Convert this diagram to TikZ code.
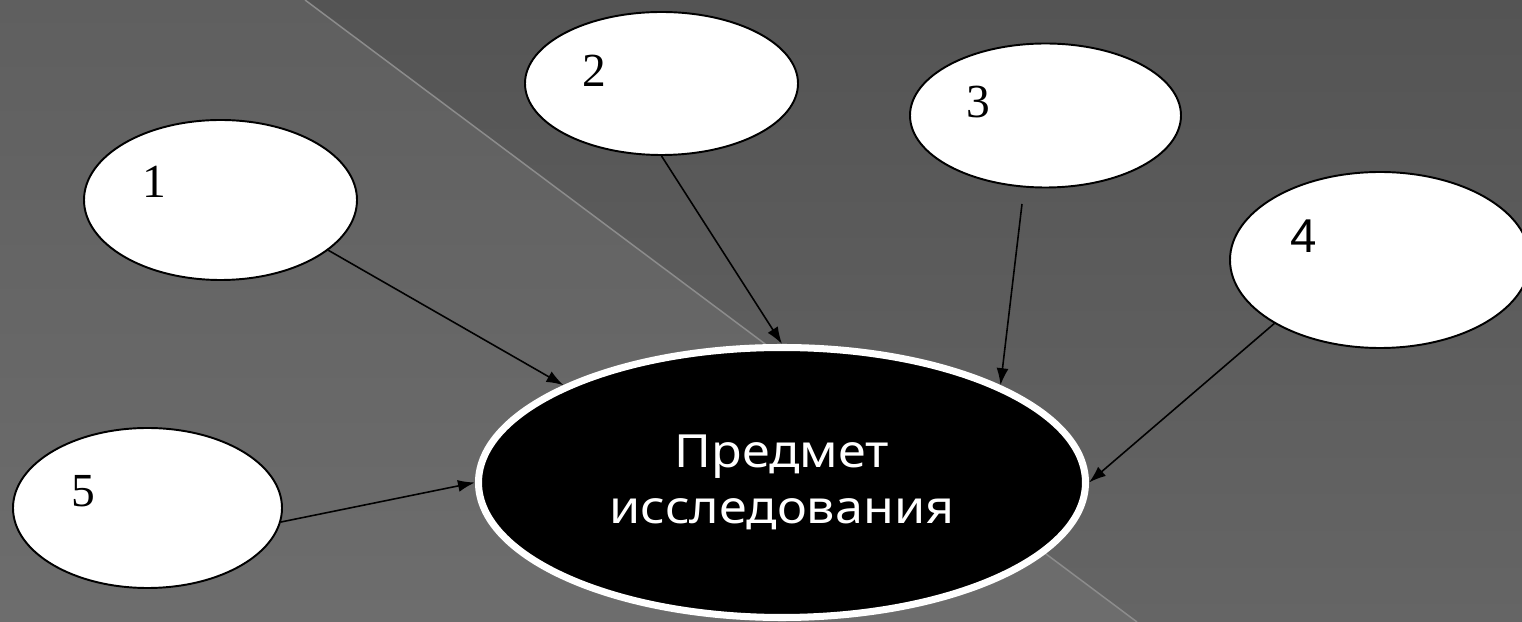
\documentclass[tikz,border=0pt]{standalone}
\usepackage{fontspec}
\setmainfont{Liberation Serif}
\newfontfamily\gothicfont{Noto Sans}[FakeStretch=1.1]
\newfontfamily\plainsans{Liberation Sans}
\usetikzlibrary{arrows.meta,shapes.geometric}

\definecolor{darktop}{HTML}{545454}
\definecolor{darkbot}{HTML}{656565}
\definecolor{lighttop}{HTML}{5F5F5F}
\definecolor{lightbot}{HTML}{6D6D6D}
\definecolor{rule}{HTML}{8C8C8C}

\begin{document}
\begin{tikzpicture}[>={Latex[length=0.34cm,width=0.24cm]},
    oval/.style={ellipse, draw=black, fill=white, line width=1.1pt, inner sep=0pt},
    numtext/.style={inner sep=0pt, font=\fontsize{27}{32}\selectfont},
    subject/.style={ellipse, draw=white, fill=black, line width=4pt, text=white,
        align=center, inner sep=0pt, font=\gothicfont\fontsize{26}{32}\selectfont},
    link/.style={->, line width=0.9pt}]

    %% Background
    \useasboundingbox (0,0) rectangle (30.44,12.44);
    \fill[top color=lighttop, bottom color=lightbot]
    (0,0) -- (0,12.44) -- (6.10,12.44) -- (22.74,0) -- cycle;
    \fill[top color=darktop, bottom color=darkbot]
    (6.10,12.44) -- (30.44,12.44) -- (30.44,0) -- (22.74,0) -- cycle;
    \draw[rule, line width=0.85pt] (6.10,12.44) -- (22.74,0);

    % Ovals
    \node[oval, minimum width=5.46cm, minimum height=3.20cm] (e1) at (4.41,8.44) {};
    \node[oval, minimum width=5.46cm, minimum height=2.86cm] (e2) at (13.23,10.77) {};
    \node[oval, minimum width=5.42cm, minimum height=2.88cm] (e3) at (20.91,10.13) {};
    \node[oval, minimum width=6.00cm, minimum height=3.52cm] (e4) at (27.60,7.24) {};
    \node[oval, minimum width=5.38cm, minimum height=3.20cm] (e5) at (2.95,2.28) {};

    \node[numtext] (n1) at (3.08,8.80) {1};
    \node[numtext] (n2) at (11.88,11.02) {2};
    \node[numtext] (n3) at (19.56,10.39) {3};
    \node[numtext, font=\plainsans\fontsize{27}{32}\selectfont] (n4) at (26.08,7.72) {4};
    \node[numtext] (n5) at (1.66,2.62) {5};

    % Subject
    \node[subject, minimum width=12.14cm, minimum height=5.40cm] (big) at (15.64,2.79)
    {Предмет\\исследования};

    % Arrows
    \coordinate (a3) at (20.44,8.36);
    \draw[link] (e1.-25) -- (big.156);
    \draw[link] (e2.south) -- (big.north);
    \draw[link] (a3) -- (big.24);
    \draw[link] (e4.211) -- (big.east);
    \draw[link] (e5.-6) -- (big.west);

\end{tikzpicture}
\end{document}
